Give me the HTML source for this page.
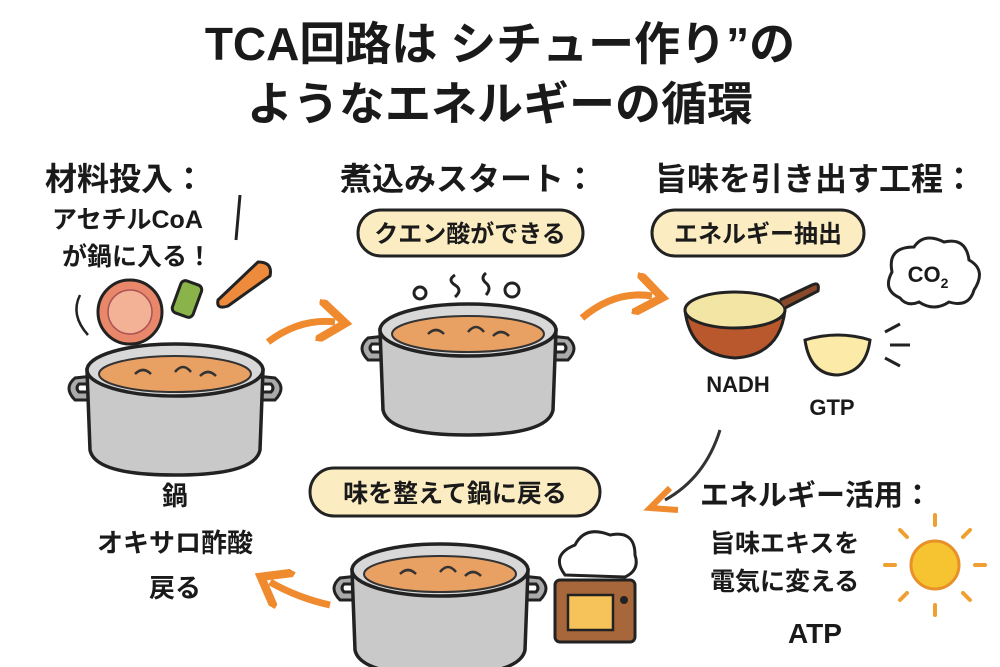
<!DOCTYPE html>
<html><head><meta charset="utf-8"><style>
body{margin:0;background:#fff}
svg{display:block}
text{font-family:"Liberation Sans","Noto Sans CJK JP",sans-serif;fill:#1a1a1a;font-weight:bold}
</style></head><body>
<svg width="1000" height="667" viewBox="0 0 1000 667" xmlns="http://www.w3.org/2000/svg">
<defs>
<g id="pot">
  <path d="M-100,8 q-12,10 0,22 l18,0 0,-8 -14,0 q-4,-4 0,-8 l14,0 0,-8z" fill="#aaa" stroke="#222" stroke-width="3"/>
  <path d="M100,8 q12,10 0,22 l-18,0 0,-8 14,0 q4,-4 0,-8 l-14,0 0,-8z" fill="#aaa" stroke="#222" stroke-width="3"/>
  <path d="M-88,0 L-85,80 Q-80,105 0,105 Q80,105 85,80 L88,0 Z" fill="#c9c9c9" stroke="#222" stroke-width="3.5"/>
  <ellipse cx="0" cy="0" rx="88" ry="26" fill="#d8d8d8" stroke="#222" stroke-width="3.5"/>
  <ellipse cx="0" cy="4" rx="76" ry="18" fill="#e9a063" stroke="#333" stroke-width="2"/>
  <path d="M-40,4 q8,-8 16,0 M0,2 q8,-10 16,0 M25,6 q8,-8 16,0" stroke="#333" stroke-width="2.5" fill="none"/>
</g>
<marker id="ah" markerWidth="5" markerHeight="6" refX="2.5" refY="3" orient="auto" markerUnits="strokeWidth">
  <path d="M0,0 L4,3 L0,6" fill="none" stroke="#f08a2e" stroke-width="1.2"/>
</marker>
</defs>

<text x="500" y="60" font-size="46" text-anchor="middle">TCA回路は シチュー作り”の</text>
<text x="500" y="120" font-size="46" text-anchor="middle">ようなエネルギーの循環</text>

<text x="45" y="190" font-size="32">材料投入：</text>
<text x="52" y="228" font-size="25">アセチルCoA</text>
<text x="62" y="265" font-size="25">が鍋に入る！</text>
<path d="M240,195 L236,240" stroke="#222" stroke-width="3"/>
<text x="340" y="190" font-size="32">煮込みスタート：</text>
<text x="655" y="190" font-size="32">旨味を引き出す工程：</text>

<rect x="358" y="210" width="225" height="46" rx="23" fill="#fbecc2" stroke="#222" stroke-width="3"/>
<text x="470" y="242" font-size="24" text-anchor="middle">クエン酸ができる</text>
<rect x="652" y="210" width="212" height="46" rx="23" fill="#fbecc2" stroke="#222" stroke-width="3"/>
<text x="758" y="242" font-size="24" text-anchor="middle">エネルギー抽出</text>
<rect x="310" y="468" width="290" height="48" rx="24" fill="#fbecc2" stroke="#222" stroke-width="3"/>
<text x="455" y="502" font-size="25" text-anchor="middle">味を整えて鍋に戻る</text>

<path d="M80,295 q-10,20 8,40" stroke="#222" stroke-width="2.5" fill="none"/>
<circle cx="130" cy="312" r="32" fill="#e8876a" stroke="#222" stroke-width="3"/>
<circle cx="130" cy="312" r="22" fill="#f3b195" stroke="#a55" stroke-width="1.5"/>
<rect x="176" y="282" width="22" height="34" rx="5" fill="#8ab34a" stroke="#222" stroke-width="3" transform="rotate(20 187 299)"/>
<path d="M218,300 L258,262 q15,0 12,14 L228,306 q-12,4 -10,-6z" fill="#ee8a3c" stroke="#222" stroke-width="3"/>

<use href="#pot" x="175" y="370"/>
<use href="#pot" x="468" y="330"/>
<use href="#pot" x="440" y="570"/>

<circle cx="420" cy="293" r="6" fill="none" stroke="#222" stroke-width="3"/>
<circle cx="512" cy="290" r="7" fill="none" stroke="#222" stroke-width="3"/>
<path d="M455,275 q-8,5 0,10 q8,5 0,12 M486,273 q-6,5 0,10 q6,5 0,12" fill="none" stroke="#222" stroke-width="3"/>

<path d="M268,342 Q300,318 335,322" fill="none" stroke="#f08a2e" stroke-width="7" marker-end="url(#ah)"/>
<path d="M582,318 Q615,290 652,296" fill="none" stroke="#f08a2e" stroke-width="7" marker-end="url(#ah)"/>
<path d="M720,430 Q705,478 665,500" fill="none" stroke="#333" stroke-width="3"/>
<path d="M670,488 L650,508 L678,510" fill="none" stroke="#f08a2e" stroke-width="6"/>
<path d="M330,605 Q298,598 270,582" fill="none" stroke="#f08a2e" stroke-width="7" marker-end="url(#ah)"/>

<path d="M685,310 Q690,355 735,358 Q780,355 785,310" fill="#b8582c" stroke="#222" stroke-width="3"/>
<ellipse cx="735" cy="310" rx="50" ry="18" fill="#f3e6a5" stroke="#222" stroke-width="3"/>
<path d="M780,300 L812,285 q8,-4 6,6 L785,308" fill="#8a4a2a" stroke="#222" stroke-width="3"/>
<text x="738" y="392" font-size="22" text-anchor="middle" font-weight="normal">NADH</text>
<path d="M805,340 Q810,375 838,375 Q866,372 870,340 Q838,330 805,340z" fill="#fbeaa8" stroke="#222" stroke-width="3"/>
<text x="832" y="415" font-size="22" text-anchor="middle" font-weight="normal">GTP</text>
<path d="M885,332 l15,-8 M890,345 l20,0 M885,358 l15,8" stroke="#222" stroke-width="3"/>
<path d="M900,298 q-18,-8 -8,-26 q-5,-25 22,-25 q10,-15 30,-5 q22,-5 25,18 q18,10 5,30 q-5,18 -25,12 q-15,10 -30,0 q-12,5 -19,-4z" fill="#fff" stroke="#222" stroke-width="3"/>
<text x="928" y="282" font-size="22" text-anchor="middle" font-weight="normal">CO<tspan font-size="14" dy="6">2</tspan></text>

<text x="175" y="505" font-size="26" text-anchor="middle">鍋</text>
<text x="175" y="552" font-size="26" text-anchor="middle">オキサロ酢酸</text>
<text x="175" y="597" font-size="26" text-anchor="middle">戻る</text>

<text x="700" y="505" font-size="29">エネルギー活用：</text>
<text x="710" y="552" font-size="25">旨味エキスを</text>
<text x="710" y="590" font-size="25">電気に変える</text>
<text x="815" y="643" font-size="28" text-anchor="middle" font-weight="normal">ATP</text>

<path d="M565,575 q-15,-20 10,-30 q10,-20 35,-10 q25,-5 25,20 q5,15 -10,22z" fill="#fff" stroke="#222" stroke-width="3"/>
<rect x="555" y="580" width="80" height="62" rx="5" fill="#a8673a" stroke="#222" stroke-width="3"/>
<rect x="568" y="595" width="45" height="35" fill="#f6c25a" stroke="#222" stroke-width="2.5"/>
<circle cx="624" cy="600" r="4" fill="#222"/>
<circle cx="935" cy="565" r="24" fill="#f6c430" stroke="#e8902a" stroke-width="3"/>
<g stroke="#f0a030" stroke-width="4" stroke-linecap="round">
<path d="M935,525 v-10 M935,605 v10 M895,565 h-10 M975,565 h10 M907,537 l-7,-7 M963,593 l7,7 M963,537 l7,-7 M907,593 l-7,7"/>
</g>
</svg>
</body></html>
